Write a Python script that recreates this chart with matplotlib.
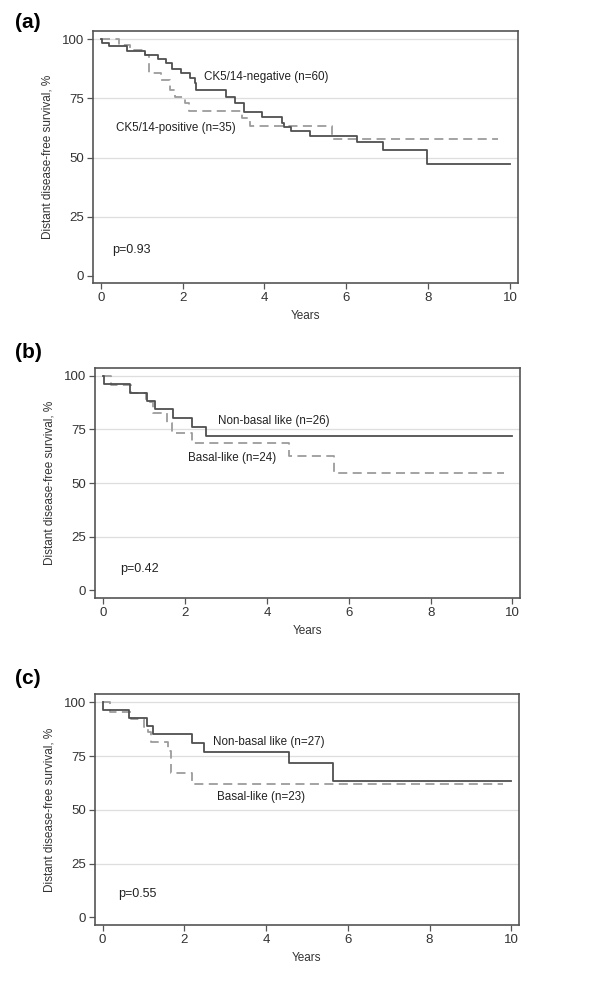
import matplotlib
matplotlib.use("Agg")
import matplotlib.pyplot as plt

plt.rcParams['font.family'] = ['Liberation Sans', 'DejaVu Sans']

# Panel (a): CK5/14 status
a_neg_t = [0, 0.03, 0.2, 0.63, 1.08, 1.4, 1.59, 1.73, 1.97, 2.17, 2.30, 2.33, 3.07, 3.29, 3.49, 3.93, 4.42, 4.48, 4.66, 5.11, 6.25, 6.90, 7.96, 10.0]
a_neg_s = [100, 98.3, 97.2, 95.0, 93.4, 91.5, 90.1, 87.3, 85.9, 83.5, 81.5, 78.5, 75.8, 73.0, 69.4, 67.0, 64.5, 63.0, 61.3, 59.2, 56.8, 53.2, 47.3, 47.3]
a_pos_t = [0, 0.45, 0.71, 1.08, 1.18, 1.48, 1.69, 1.81, 2.05, 2.15, 3.44, 3.64, 5.64, 9.71]
a_pos_s = [100, 97.5, 95.5, 93.5, 85.6, 83.0, 78.6, 75.8, 73.0, 69.9, 66.6, 63.4, 58.0, 58.0]

# Panel (b): basal-like vs non-basal like
b_non_t = [0, 0.02, 0.65, 1.08, 1.26, 1.71, 2.17, 2.51, 10.0]
b_non_s = [100, 96.1, 92.1, 88.4, 84.4, 80.2, 76.0, 72.0, 72.0]
b_bas_t = [0, 0.19, 0.68, 1.04, 1.21, 1.57, 1.67, 2.17, 4.54, 5.64, 9.8]
b_bas_s = [100, 95.7, 91.8, 87.9, 82.8, 77.9, 73.5, 68.6, 62.7, 54.9, 54.9]

# Panel (c): basal-like vs non-basal like
c_non_t = [0, 0.02, 0.65, 1.08, 1.24, 2.18, 2.49, 4.55, 5.64, 10.0]
c_non_s = [100, 96.4, 92.9, 89.2, 85.3, 81.3, 77.1, 71.7, 63.6, 63.6]
c_bas_t = [0, 0.18, 0.69, 1.02, 1.10, 1.18, 1.59, 1.67, 2.18, 9.8]
c_bas_s = [100, 95.7, 92.1, 88.7, 86.0, 81.7, 77.4, 67.3, 62.1, 62.1]

yticks = [0, 25, 50, 75, 100]
xticks = [0, 2, 4, 6, 8, 10]

panels = [
    dict(tag="(a)", rect=[0.155, 0.717, 0.708, 0.252], ylim=(-3.0, 103.5), tagy=0.978,
         solid=(a_neg_t, a_neg_s), dashed=(a_pos_t, a_pos_s),
         labels=[("CK5/14-negative (n=60)", 2.52, 84.1), ("CK5/14-positive (n=35)", 0.37, 62.5)],
         p=("p=0.93", 0.29, 11.1)),
    dict(tag="(b)", rect=[0.159, 0.402, 0.708, 0.230], ylim=(-3.5, 103.6), tagy=0.648,
         solid=(b_non_t, b_non_s), dashed=(b_bas_t, b_bas_s),
         labels=[("Non-basal like (n=26)", 2.8, 78.9), ("Basal-like (n=24)", 2.07, 61.7)],
         p=("p=0.42", 0.41, 10.2)),
    dict(tag="(c)", rect=[0.158, 0.075, 0.707, 0.231], ylim=(-3.6, 103.9), tagy=0.322,
         solid=(c_non_t, c_non_s), dashed=(c_bas_t, c_bas_s),
         labels=[("Non-basal like (n=27)", 2.71, 81.5), ("Basal-like (n=23)", 2.8, 56.0)],
         p=("p=0.55", 0.37, 10.6)),
]

fig = plt.figure(figsize=(6, 10), dpi=100)

for pn in panels:
    ax = fig.add_axes(pn["rect"])
    ax.set_xlim(-0.19, 10.19)
    ax.set_ylim(*pn["ylim"])
    for g in [25, 50, 75, 100]:
        ax.axhline(g, color="#dedede", lw=0.9, zorder=0)
    ax.step(pn["dashed"][0], pn["dashed"][1], where="post", color="#9c9c9c",
            lw=1.3, dashes=(5, 3), zorder=2)
    ax.step(pn["solid"][0], pn["solid"][1], where="post", color="#4f4f4f",
            lw=1.3, zorder=3)
    for txt, x, y in pn["labels"]:
        ax.text(x, y, txt, fontsize=8.4, ha="left", va="center", color="#222222")
    ax.text(pn["p"][1], pn["p"][2], pn["p"][0], fontsize=9, ha="left", va="center", color="#222222")

    ax.set_xticks(xticks)
    ax.set_yticks(yticks)
    ax.tick_params(direction="out", length=4.5, width=0.9, color="#555555",
                   labelsize=9.5, labelcolor="#333333", pad=2)
    for s in ax.spines.values():
        s.set_color("#555555")
        s.set_linewidth(1.2)
    ax.set_ylabel("Distant disease-free survival, %", fontsize=8.5, color="#333333", labelpad=6)
    ax.set_xlabel("Years", fontsize=8.5, color="#333333", labelpad=4)
    fig.text(0.025, pn["tagy"], pn["tag"], fontsize=15, fontweight="bold", va="center", ha="left")

fig.savefig("out.png", dpi=100)
